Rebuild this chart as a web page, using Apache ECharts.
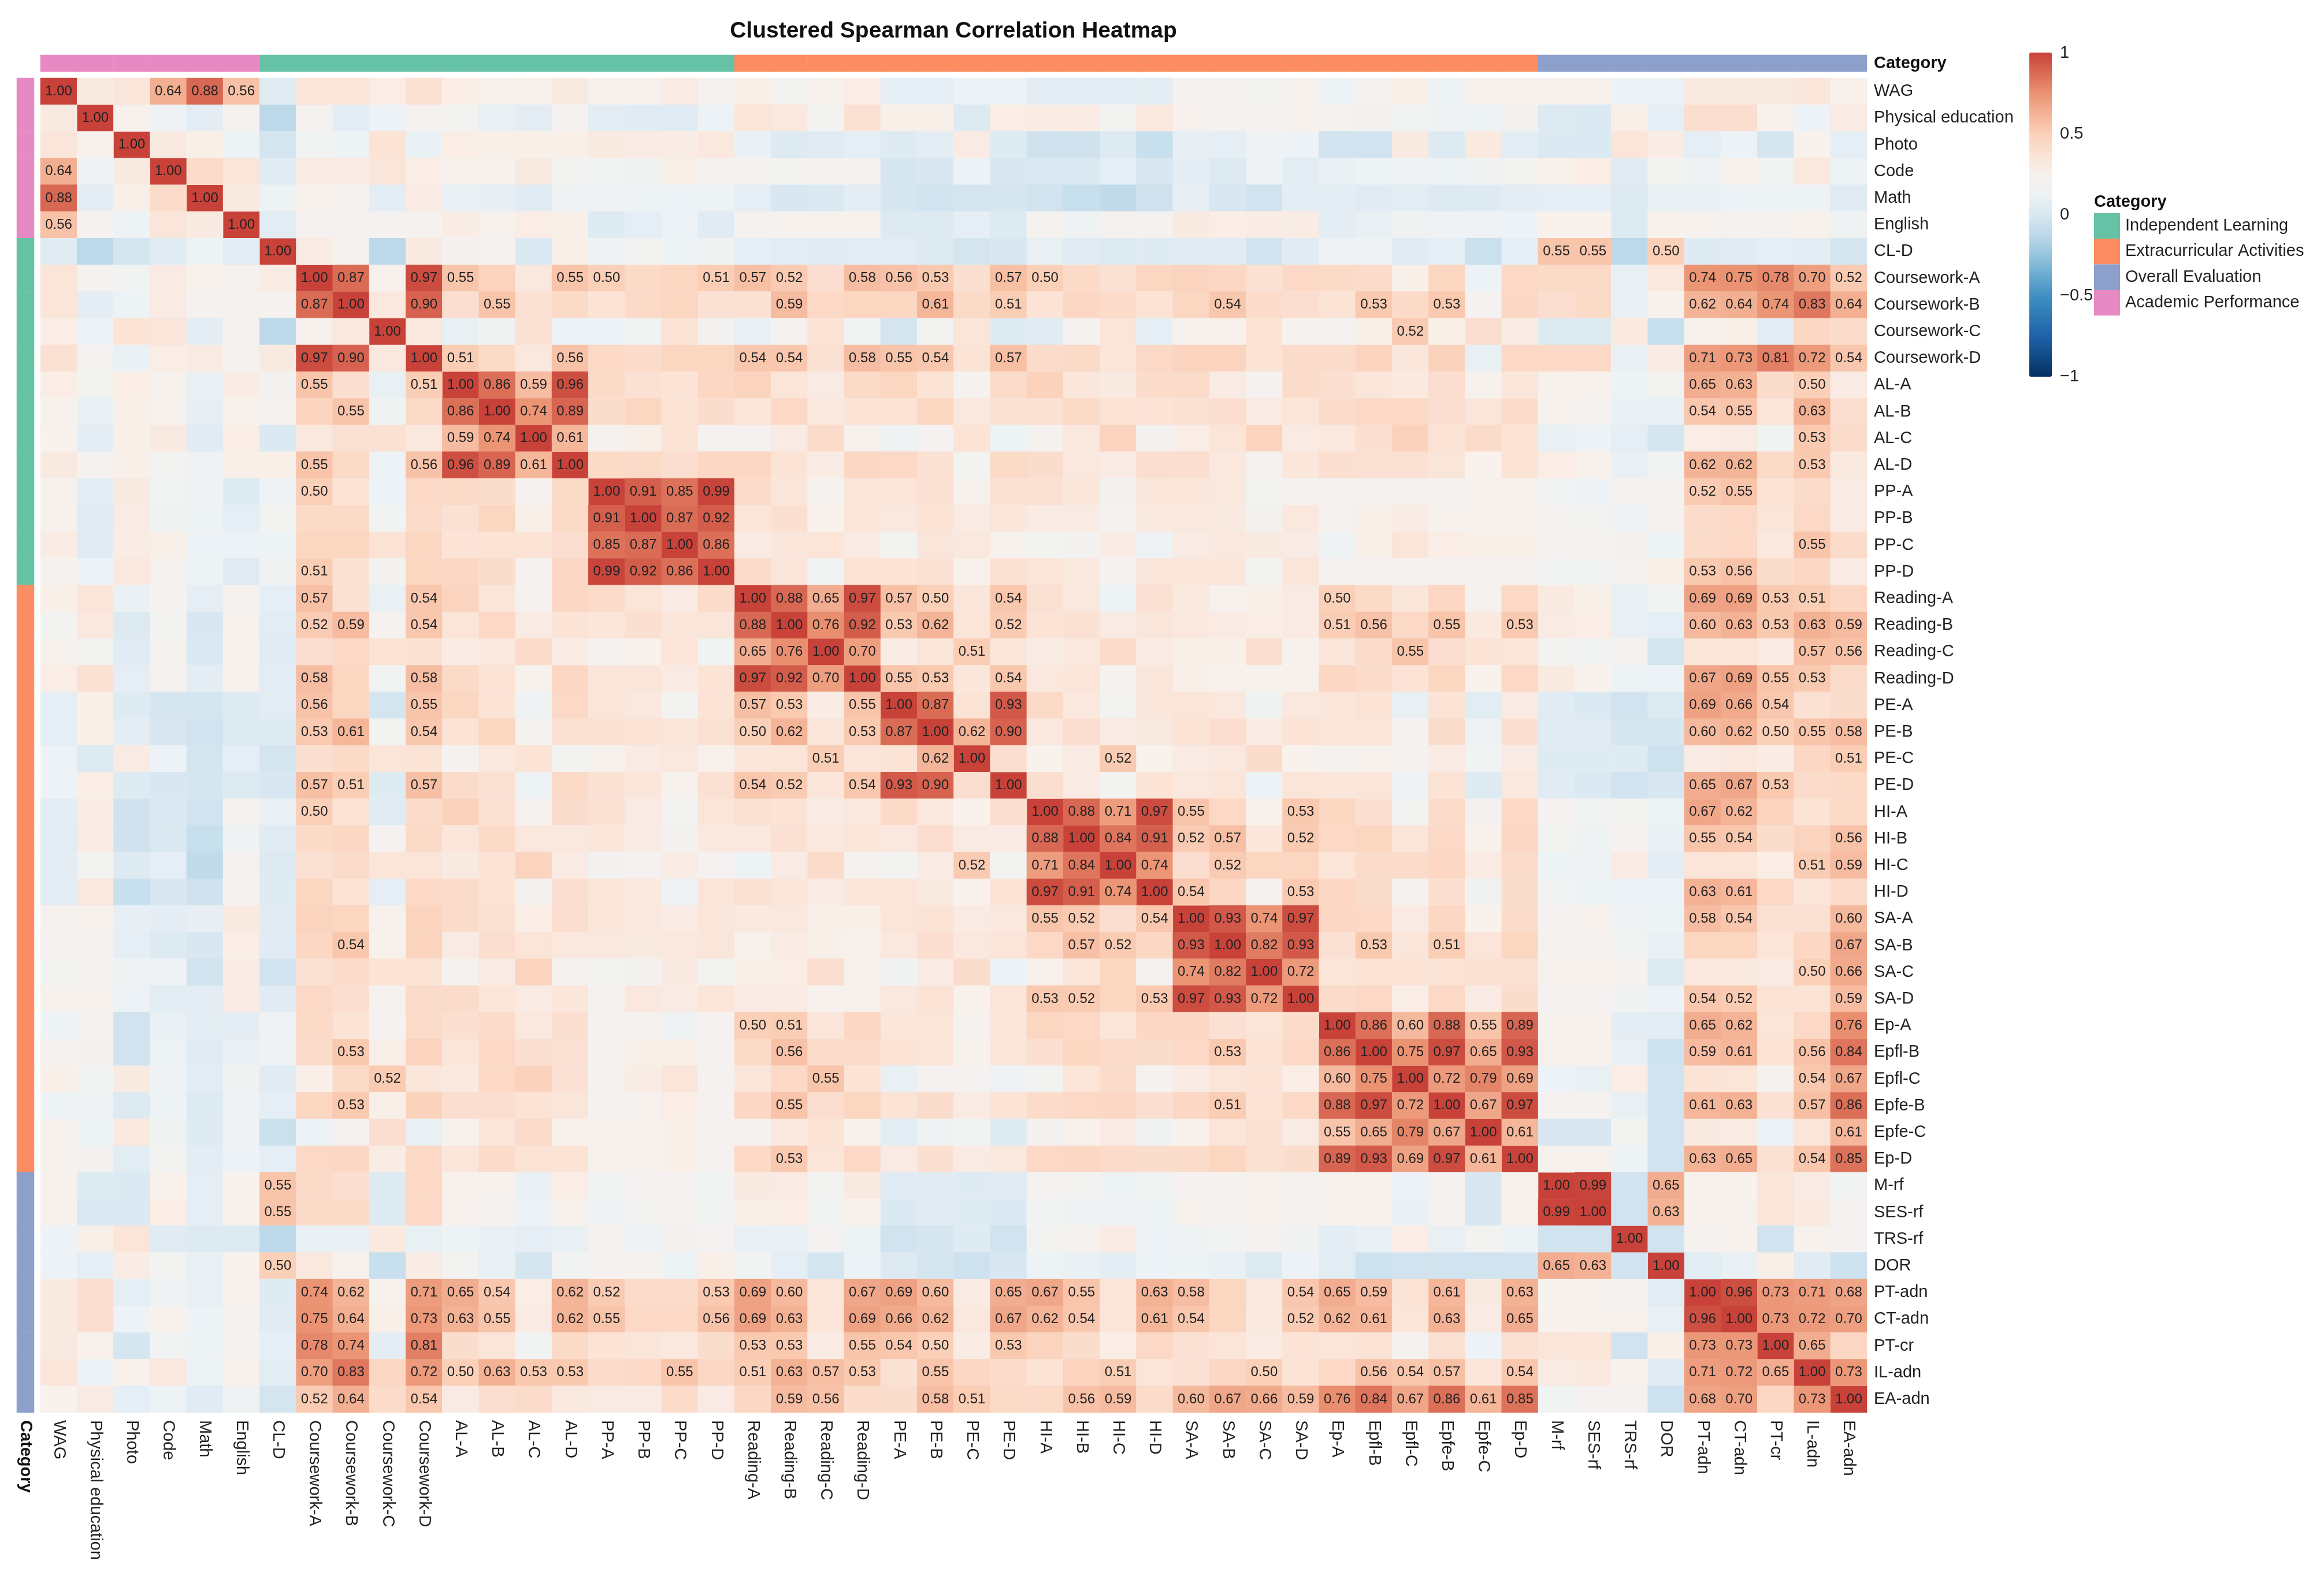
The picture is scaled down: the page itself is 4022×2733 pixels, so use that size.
<!DOCTYPE html>
<html><head><meta charset="utf-8">
<script src="https://cdn.jsdelivr.net/npm/echarts@6/dist/echarts.min.js"></script>
<style>html,body{margin:0;padding:0;background:#fff}#c{width:4022px;height:2733px}</style>
</head><body><div id="c"></div>
<script>
const names=['WAG','Physical education','Photo','Code','Math','English','CL-D','Coursework-A','Coursework-B','Coursework-C','Coursework-D','AL-A','AL-B','AL-C','AL-D','PP-A','PP-B','PP-C','PP-D','Reading-A','Reading-B','Reading-C','Reading-D','PE-A','PE-B','PE-C','PE-D','HI-A','HI-B','HI-C','HI-D','SA-A','SA-B','SA-C','SA-D','Ep-A','Epfl-B','Epfl-C','Epfe-B','Epfe-C','Ep-D','M-rf','SES-rf','TRS-rf','DOR','PT-adn','CT-adn','PT-cr','IL-adn','EA-adn'];
const academic=names.slice(0,6), independent=names.slice(6,19), extracurricular=names.slice(19,41), overall=names.slice(41);
// upper triangle of the symmetric matrix; each row starts right after the diagonal
const r00=[.31,.35,.64,.88,.56,.05,.36,.36,.28,.38,.28,.24,.25,.31,.24,.24,.29,.22,.27,.18,.23,.28,.08,.08,.12,.12,.07,.06,.07,.07,.22,.2,.18,.24,.13,.21,.27,.13,.24,.24,.24,.24,.12,.12,.31,.31,.31,.34,.25];
const r01=[.24,.14,.07,.22,-.12,.22,.07,.12,.2,.18,.1,.07,.2,.07,.05,.05,.12,.36,.33,.18,.38,.27,.27,.03,.28,.29,.3,.18,.33,.24,.22,.2,.24,.22,.19,.17,.15,.13,.19,.03,.02,.27,.08,.4,.4,.26,.12,.3];
const r02=[.31,.27,.13,-.02,.17,.13,.37,.11,.28,.27,.27,.27,.31,.3,.29,.33,.11,.03,.05,.08,.04,.07,.3,.04,-.04,-.04,.03,-.07,.09,.08,.15,.12,-.03,-.03,.31,.03,.32,.06,.02,.02,.36,.29,.08,.12,-.01,.25,.08];
const r03=[.42,.35,.05,.3,.3,.35,.28,.23,.24,.31,.18,.17,.16,.27,.22,.22,.18,.22,.22,-.01,0,.12,0,.01,.01,.08,0,.07,.03,.14,.06,.1,.13,.14,.13,.16,.18,.26,.28,.05,.18,.15,.25,.17,.33,.13];
const r04=[.31,.13,.26,.22,.07,.3,.1,.09,.05,.15,.14,.13,.12,.13,.08,0,.02,.07,-.01,-.03,-.02,-.01,-.03,-.07,-.1,-.04,.09,0,-.03,.07,.07,.05,.06,.03,.04,.07,.08,.08,.03,.1,.1,.12,.13,.13,.05];
const r05=[.06,.22,.22,.2,.22,.29,.23,.28,.27,.04,.08,.12,.05,.22,.24,.24,.24,.03,.03,.08,.03,.22,.15,.2,.2,.31,.28,.29,.29,.07,.1,.16,.14,.14,.12,.25,.25,.03,.25,.23,.2,.22,.26,.15];
const r06=[.3,.21,-.12,.31,.19,.22,.02,.27,.14,.18,.13,.16,.08,.06,.05,.06,.06,.03,-.02,0,.1,.05,.03,.04,.05,.05,-.03,.05,.14,.14,.05,.08,-.06,.08,.55,.55,-.12,.5,.04,.05,.08,.06,-.02];
const r07=[.87,.24,.97,.55,.47,.33,.55,.5,.43,.46,.51,.57,.52,.4,.58,.56,.53,.39,.57,.5,.43,.38,.46,.47,.45,.38,.44,.43,.42,.27,.46,.12,.44,.43,.43,.1,.33,.74,.75,.78,.7,.52];
const r08=[.33,.9,.4,.55,.38,.43,.37,.43,.46,.38,.38,.59,.44,.46,.46,.61,.43,.51,.37,.45,.42,.37,.46,.54,.42,.4,.37,.53,.43,.53,.2,.45,.4,.43,.1,.23,.62,.64,.74,.83,.64];
const r09=[.33,.1,.16,.38,.12,.12,.17,.37,.19,.1,.2,.37,.17,-.02,.18,.36,.04,.05,.2,.36,.08,.24,.26,.37,.22,.2,.27,.52,.27,.4,.29,.03,.03,.32,-.07,.23,.27,.07,.45,.42];
const r10=[.51,.43,.33,.56,.44,.42,.46,.46,.54,.54,.38,.58,.55,.54,.37,.57,.42,.43,.36,.44,.47,.47,.37,.42,.42,.47,.34,.48,.1,.44,.44,.44,.1,.29,.71,.73,.81,.72,.54];
const r11=[.86,.59,.96,.43,.38,.37,.45,.47,.36,.3,.43,.46,.37,.22,.42,.48,.34,.31,.42,.42,.3,.22,.42,.39,.35,.32,.4,.24,.34,.26,.24,.13,.18,.65,.63,.41,.5,.3];
const r12=[.74,.89,.41,.46,.37,.41,.35,.44,.33,.37,.37,.46,.33,.38,.38,.43,.37,.37,.38,.4,.3,.36,.42,.44,.44,.4,.35,.42,.24,.22,.1,.1,.54,.55,.36,.63,.4];
const r13=[.61,.22,.27,.37,.2,.2,.3,.42,.23,.15,.2,.37,.13,.22,.33,.47,.19,.28,.36,.47,.3,.33,.39,.48,.37,.42,.37,.1,.12,.08,-.01,.28,.3,.17,.53,.42];
const r14=[.43,.43,.4,.45,.45,.37,.29,.45,.44,.38,.18,.43,.41,.33,.3,.4,.4,.33,.2,.34,.39,.38,.38,.35,.25,.37,.28,.26,.1,.17,.62,.62,.43,.53,.32];
const r15=[.91,.85,.99,.42,.34,.21,.35,.36,.38,.24,.38,.38,.34,.19,.35,.34,.33,.18,.2,.2,.2,.2,.2,.23,.24,.17,.14,.22,.2,.52,.55,.37,.42,.3];
const r16=[.87,.92,.36,.39,.25,.35,.33,.37,.3,.34,.3,.3,.2,.32,.33,.31,.19,.33,.21,.27,.29,.24,.24,.24,.2,.18,.14,.21,.42,.44,.35,.44,.3];
const r17=[.86,.3,.34,.36,.3,.18,.35,.33,.24,.18,.19,.29,.14,.3,.33,.31,.3,.15,.27,.35,.28,.27,.27,.2,.21,.19,.13,.42,.44,.33,.55,.42];
const r18=[.42,.35,.17,.37,.37,.38,.26,.38,.36,.32,.2,.35,.34,.35,.18,.36,.2,.2,.2,.2,.2,.2,.17,.17,.2,.27,.53,.56,.41,.45,.3];
const r19=[.88,.65,.97,.57,.5,.34,.54,.38,.33,.13,.38,.32,.24,.27,.3,.5,.43,.34,.45,.21,.44,.31,.27,.1,.17,.69,.69,.53,.51,.45];
const r20=[.76,.92,.53,.62,.36,.52,.37,.38,.3,.35,.33,.3,.28,.3,.51,.56,.44,.55,.32,.53,.3,.28,.1,.08,.6,.63,.53,.63,.59];
const r21=[.7,.29,.35,.51,.34,.29,.33,.42,.3,.27,.27,.4,.24,.35,.42,.55,.4,.37,.36,.18,.17,.2,-.02,.36,.36,.3,.57,.56];
const r22=[.55,.53,.34,.54,.33,.36,.21,.35,.27,.26,.23,.24,.45,.42,.37,.46,.25,.44,.31,.25,.13,.12,.67,.69,.55,.53,.42];
const r23=[.87,.37,.93,.43,.33,.18,.34,.36,.33,.16,.33,.34,.37,.1,.37,.06,.3,.05,.02,-.03,.03,.69,.66,.54,.38,.41];
const r24=[.62,.9,.33,.4,.3,.31,.37,.4,.3,.37,.36,.36,.2,.41,.15,.39,.05,.05,-.01,-.01,.6,.62,.5,.55,.58];
const r25=[.4,.25,.3,.52,.25,.3,.33,.41,.25,.22,.24,.2,.3,.17,.3,.04,.04,.04,-.05,.3,.33,.29,.45,.51];
const r26=[.4,.3,.18,.37,.33,.36,.12,.36,.34,.35,.14,.37,.04,.33,.05,.02,-.03,0,.65,.67,.53,.42,.43];
const r27=[.88,.71,.97,.55,.44,.26,.53,.46,.39,.18,.42,.19,.44,.2,.17,.18,.13,.67,.62,.47,.37,.43];
const r28=[.84,.91,.52,.57,.34,.52,.44,.46,.36,.44,.25,.45,.18,.15,.22,.11,.55,.54,.41,.47,.56];
const r29=[.74,.4,.52,.46,.46,.36,.42,.42,.45,.3,.42,.13,.15,.3,.07,.36,.36,.28,.51,.59];
const r30=[.54,.45,.2,.53,.45,.41,.21,.39,.16,.41,.17,.13,.12,.12,.63,.61,.44,.36,.42];
const r31=[.93,.74,.97,.45,.44,.3,.45,.25,.42,.2,.23,.15,.13,.58,.54,.38,.38,.6];
const r32=[.82,.93,.38,.53,.35,.51,.36,.46,.22,.22,.17,.1,.46,.46,.36,.45,.67];
const r33=[.72,.36,.37,.37,.37,.38,.38,.24,.26,.2,.03,.33,.32,.3,.5,.66];
const r34=[.42,.44,.28,.44,.3,.41,.2,.2,.16,.12,.54,.52,.37,.37,.59];
const r35=[.86,.6,.88,.55,.89,.24,.24,.07,.06,.65,.62,.36,.44,.76];
const r36=[.75,.97,.65,.93,.24,.24,.1,-.05,.59,.61,.37,.56,.84];
const r37=[.72,.79,.69,.12,.1,.28,-.03,.37,.36,.22,.54,.67];
const r38=[.67,.97,.2,.21,.1,-.03,.61,.63,.38,.57,.86];
const r39=[.61,0,0,.18,-.03,.31,.3,.12,.35,.61];
const r40=[.23,.23,.13,-.03,.63,.65,.38,.54,.85];
const r41=[.99,-.03,.65,.24,.25,.35,.3,.17];
const r42=[-.03,.63,.23,.24,.36,.32,.2];
const r43=[-.03,.22,.24,-.03,.24,.2];
const r44=[.06,.1,.27,.05,-.05];
const r45=[.96,.73,.71,.68];
const r46=[.73,.72,.7];
const r47=[.65,.45];
const r48=[.73];
const upperRows=[r00,r01,r02,r03,r04,r05,r06,r07,r08,r09,r10,r11,r12,r13,r14,r15,r16,r17,r18,r19,r20,r21,r22,r23,r24,r25,r26,r27,r28,r29,r30,r31,r32,r33,r34,r35,r36,r37,r38,r39,r40,r41,r42,r43,r44,r45,r46,r47,r48];
const colorStops=['#053061','#114A85','#1E62A8','#2E79B5','#4090C2','#6BAAD0','#97C5DE','#BCD8E9','#D8E7F1','#EDF2F5','#F8F1EC','#FBE2D5','#FBD0B8','#F4B396','#EA9272','#D96A54','#C8423A'];
const catColors={'Independent Learning':'#66C2A5','Extracurricular Activities':'#FC8D62','Overall Evaluation':'#8DA0CB','Academic Performance':'#E78AC3'};
const catMembers={'Academic Performance':academic,'Independent Learning':independent,'Extracurricular Activities':extracurricular,'Overall Evaluation':overall};
const FONT='"Liberation Sans",Arial,sans-serif';

upperRows.forEach((r,i)=>{if(r.length!==49-i)throw new Error('row '+i+' has '+r.length+', expected '+(49-i));});
const cells=[];
names.forEach((_,i)=>cells.push([i,i,1]));
upperRows.forEach((r,i)=>r.forEach((v,k)=>{const j=i+1+k;cells.push([j,i,v]);cells.push([i,j,v]);}));

const hiddenCat=(data,grid,extra)=>Object.assign({type:'category',data,gridIndex:grid,axisLine:{show:false},axisTick:{show:false},axisLabel:{show:false},splitLine:{show:false},splitArea:{show:false}},extra||{});
const catSeries=[];
Object.keys(catMembers).forEach(k=>{
  catSeries.push({type:'heatmap',name:k,xAxisIndex:1,yAxisIndex:1,itemStyle:{color:catColors[k]},silent:true,
    data:catMembers[k].map(n=>[names.indexOf(n),0,1])});
  catSeries.push({type:'heatmap',name:k,xAxisIndex:2,yAxisIndex:2,itemStyle:{color:catColors[k]},silent:true,
    data:catMembers[k].map(n=>[0,names.indexOf(n),1])});
});

const chart=echarts.init(document.getElementById('c'),null,{renderer:'canvas'});
chart.setOption({
  animation:false,backgroundColor:'#fff',
  title:[
    {text:'Clustered Spearman Correlation Heatmap',left:1650,top:35,textAlign:'center',padding:0,textStyle:{fontFamily:FONT,fontSize:39,fontWeight:'bold',color:'#111'}},
    {text:'Category',left:3624,top:335,padding:0,textStyle:{fontFamily:FONT,fontSize:29,fontWeight:'bold',color:'#111'}}
  ],
  grid:[
    {left:70,top:135,width:3161,height:2310},
    {left:70,top:95,width:3161,height:29},
    {left:29,top:135,width:30,height:2310},
    {left:3512,top:92,width:39,height:560}
  ],
  xAxis:[
    {type:'category',data:names,gridIndex:0,position:'bottom',axisLine:{show:false},axisTick:{show:false},splitLine:{show:false},splitArea:{show:false},
      axisLabel:{rotate:-90,interval:0,margin:13,padding:[6,0,0,0],fontFamily:FONT,fontSize:29,color:'#222'}},
    hiddenCat(names,1),
    {type:'category',data:['Category'],gridIndex:2,position:'bottom',axisLine:{show:false},axisTick:{show:false},splitLine:{show:false},splitArea:{show:false},
      axisLabel:{rotate:-90,interval:0,margin:13,fontFamily:FONT,fontSize:29,fontWeight:'bold',color:'#111'}},
    hiddenCat(['c'],3)
  ],
  yAxis:[
    {type:'category',data:names,gridIndex:0,inverse:true,position:'right',axisLine:{show:false},axisTick:{show:false},splitLine:{show:false},splitArea:{show:false},
      axisLabel:{interval:0,margin:12,padding:[10,0,0,0],fontFamily:FONT,fontSize:29,color:'#222'}},
    {type:'category',data:['Category'],gridIndex:1,position:'right',axisLine:{show:false},axisTick:{show:false},splitLine:{show:false},splitArea:{show:false},
      axisLabel:{interval:0,margin:12,padding:[10,0,0,0],fontFamily:FONT,fontSize:29,fontWeight:'bold',color:'#111'}},
    hiddenCat(names,2,{inverse:true}),
    {type:'value',gridIndex:3,min:-1,max:1,interval:.5,position:'right',axisLine:{show:false},axisTick:{show:false},splitLine:{show:false},
      axisLabel:{margin:14,padding:[8,0,0,0],fontFamily:FONT,fontSize:29,color:'#222',formatter:v=>String(v).replace('-','\u2212')}}
  ],
  legend:{data:Object.keys(catColors),orient:'vertical',left:3624,top:369,padding:0,itemWidth:45,itemHeight:44.3,itemGap:0,icon:'rect',selectedMode:false,
    textStyle:{fontFamily:FONT,fontSize:29,color:'#222',padding:[12,0,0,4]}},
  visualMap:{type:'continuous',seriesIndex:0,min:-1,max:1,calculable:false,left:3512,top:91,itemWidth:39,itemHeight:561,padding:0,text:null,showLabel:false,hoverLink:false,inRange:{color:colorStops}},
  series:[
    {type:'heatmap',name:'Spearman',xAxisIndex:0,yAxisIndex:0,data:cells,silent:true,progressive:0,itemStyle:{borderWidth:0},
      label:{show:true,fontFamily:FONT,fontSize:24,color:'#222',padding:[8,0,0,0],formatter:p=>p.value[2]>=.5?p.value[2].toFixed(2):''}}
  ].concat(catSeries)
});
</script></body></html>
